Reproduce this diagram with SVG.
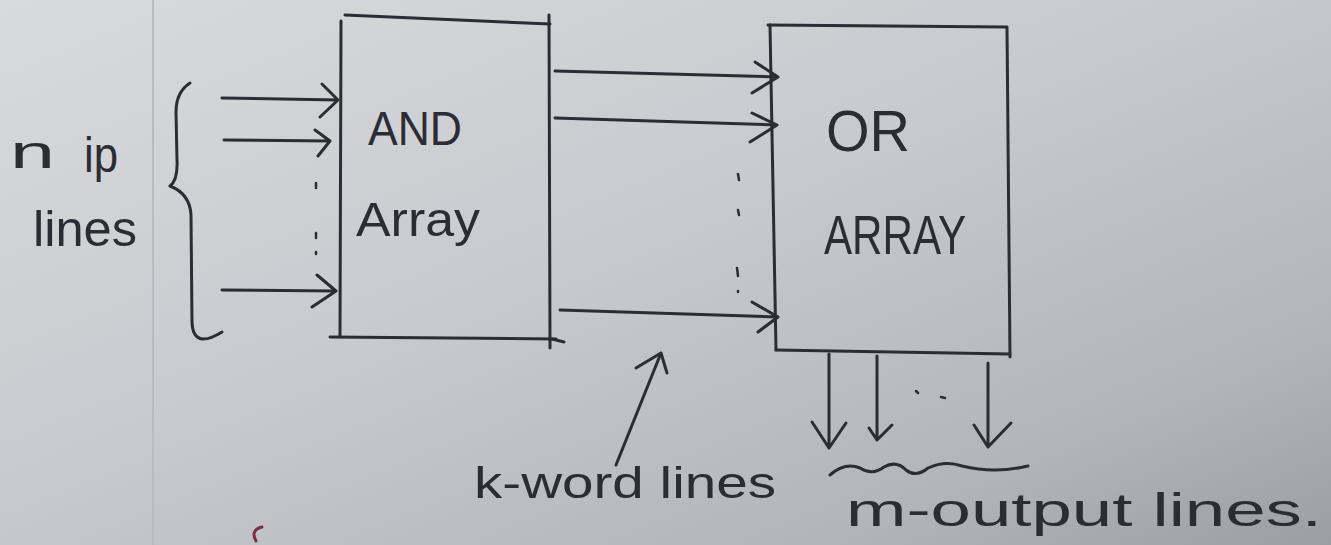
<svg xmlns="http://www.w3.org/2000/svg" width="1331" height="545" viewBox="0 0 1331 545">
  <defs>
    <linearGradient id="paper" x1="0" y1="0" x2="1" y2="1">
      <stop offset="0" stop-color="#d9dadd"/>
      <stop offset="0.45" stop-color="#c9cacf"/>
      <stop offset="0.8" stop-color="#b3b5bb"/>
      <stop offset="1" stop-color="#9c9ea5"/>
    </linearGradient>
    <style>
      .ink { fill: none; stroke: #2c2c34; stroke-width: 3; stroke-linecap: round; stroke-linejoin: round; }
      .thin { fill: none; stroke: #2c2c34; stroke-width: 2.5; stroke-linecap: round; }
      .hand { font-family: "Liberation Sans", "DejaVu Sans", sans-serif; fill: #2c2c34; }
    </style>
  </defs>

  <rect width="1331" height="545" fill="url(#paper)"/>
  <line x1="153" y1="0" x2="153" y2="545" stroke="#b9bbc0" stroke-width="2"/>
  <path d="M256 541 Q250 530 262 527" fill="none" stroke="#7a3040" stroke-width="3" stroke-linecap="round"/>

  <g id="input-label">
    <text class="hand" x="10" y="168" font-size="46" textLength="45" lengthAdjust="spacingAndGlyphs">n</text>
    <text class="hand" x="84" y="172" font-size="50" textLength="34" lengthAdjust="spacingAndGlyphs">ip</text>
    <text class="hand" x="33" y="246" font-size="50" textLength="104" lengthAdjust="spacingAndGlyphs">lines</text>
    <path class="ink" d="M190 83 Q176 92 176 112 L177 160 Q178 180 170 186 Q190 194 191 215 L192 322 Q193 350 222 332"/>
  </g>

  <g id="and-array">
    <path class="ink" d="M345 15 L550 24"/>
    <path class="ink" d="M341 21 L340 336"/>
    <path class="ink" d="M330 337 L556 339"/>
    <path class="ink" d="M549 15 L550 348"/>
    <path class="ink" d="M552 339 L564 342"/>
    <text class="hand" x="368" y="145" font-size="48" textLength="94" lengthAdjust="spacingAndGlyphs">AND</text>
    <text class="hand" x="356" y="236" font-size="48" textLength="124" lengthAdjust="spacingAndGlyphs">Array</text>
  </g>

  <g id="or-array">
    <path class="ink" d="M768 25 L1006 27"/>
    <path class="ink" d="M770 25 L776 350"/>
    <path class="ink" d="M1007 27 L1010 357"/>
    <path class="ink" d="M776 350 L1010 354"/>
    <text class="hand" x="826" y="151" font-size="58" textLength="84" lengthAdjust="spacingAndGlyphs">OR</text>
    <text class="hand" x="824" y="254" font-size="56" textLength="142" lengthAdjust="spacingAndGlyphs">ARRAY</text>
  </g>

  <g id="connectors">
    <path class="ink" d="M222 98 L338 100 M322 84 L338 100 L320 117"/>
    <path class="ink" d="M224 140 L330 141 M315 130 L330 141 L318 156"/>
    <path class="ink" d="M222 290 L336 291 M317 275 L336 291 L312 307"/>
    <path class="thin" d="M316 183 L316 188 M316 233 L316 238 M316 252 L316 254"/>
    <path class="ink" d="M555 71 L778 77 M755 62 L778 77 L752 93"/>
    <path class="ink" d="M555 118 L777 125 M752 113 L777 125 L750 142"/>
    <path class="ink" d="M560 310 L778 317 M752 302 L778 317 L758 332"/>
    <path class="thin" d="M738 174 L739 180 M738 210 L739 215 M737 268 L738 276 M738 291 L738 292"/>
    <path class="ink" d="M829 354 L829 448 M812 422 L829 448 L846 423"/>
    <path class="ink" d="M877 356 L877 440 M869 428 L877 440 L892 425"/>
    <path class="ink" d="M988 363 L988 447 M974 425 L988 447 L1011 423"/>
    <path class="thin" d="M916 391 L918 393 M941 397 L945 398"/>
    <path class="ink" d="M616 465 L661 353 M636 368 L661 353 L667 373"/>
    <path class="ink" d="M830 475 Q845 462 860 468 Q872 476 884 467 Q896 460 906 470 Q916 478 928 468 Q945 460 962 466 Q995 474 1028 466"/>
  </g>

  <g id="labels">
    <text class="hand" x="474" y="498" font-size="44" textLength="302" lengthAdjust="spacingAndGlyphs">k-word lines</text>
    <text class="hand" x="846" y="526" font-size="46" textLength="476" lengthAdjust="spacingAndGlyphs">m-output lines.</text>
  </g>
</svg>
